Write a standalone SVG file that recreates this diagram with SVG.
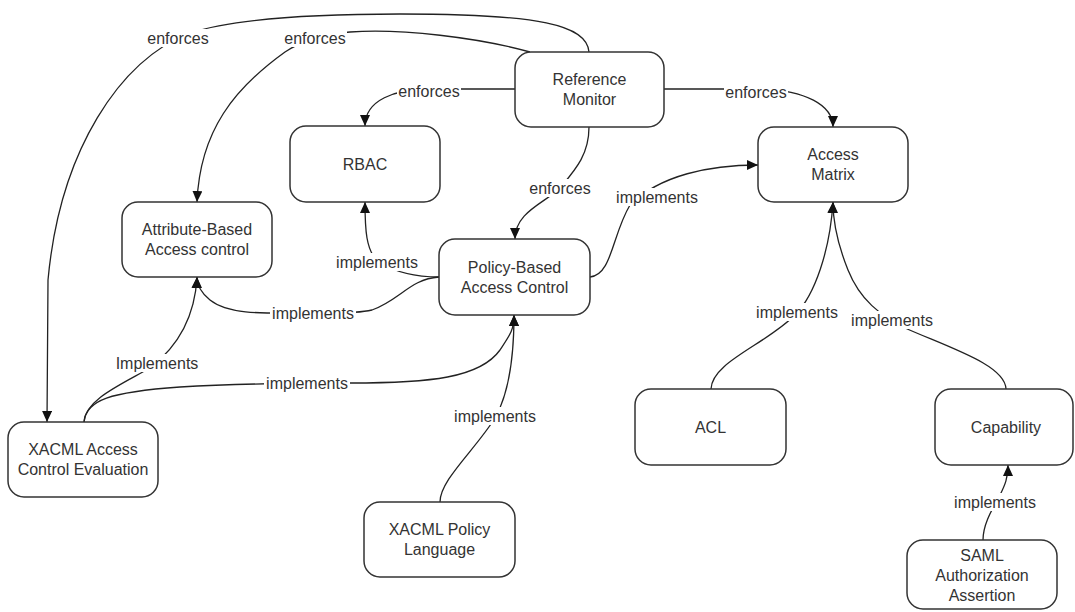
<svg xmlns="http://www.w3.org/2000/svg" width="1075" height="612" viewBox="0 0 1075 612">
<style>
.node rect{fill:#fff;stroke:#333;stroke-width:1.5}
.node text{font-family:"Liberation Sans",Arial,sans-serif;font-size:16px;fill:#333;text-anchor:middle}
.conn path{fill:none;stroke:#222;stroke-width:1.3}
.lbl rect{fill:#fff;stroke:none}
.lbl text{font-family:"Liberation Sans",Arial,sans-serif;font-size:16px;fill:#333;text-anchor:middle;dominant-baseline:central}
</style>
<defs>
<marker id="arr" markerWidth="12" markerHeight="10" refX="11" refY="5" orient="auto" markerUnits="userSpaceOnUse">
<path d="M0,0 L11,5 L0,10 z" fill="#111"/>
</marker>
</defs>
<rect width="1075" height="612" fill="#fff"/>
<g id="connectors" class="conn">
<path marker-end="url(#arr)" d="M589,52 C587,25 540,14 400,14 C300,14 230,20 190,33 C120,60 60,150 48,280 L47,422"/>
<path marker-end="url(#arr)" d="M530,52 C480,38 400,28 350,32 C320,34 300,42 285,52 C235,88 200,130 197,202"/>
<path marker-end="url(#arr)" d="M515,89 L430,89 C395,89 365,100 365,126"/>
<path marker-end="url(#arr)" d="M663,89 L760,89 C805,90 833,105 833,127"/>
<path marker-end="url(#arr)" d="M589,127 C589,155 575,170 560,188 C545,203 515,212 515,239"/>
<path marker-end="url(#arr)" d="M590,277 C612,275 612,235 630,205 C660,175 710,165 758,165"/>
<path marker-end="url(#arr)" d="M439,277 C415,277 395,272 378,262 C366,250 365,230 365,202"/>
<path marker-end="url(#arr)" d="M439,277 C410,279 400,300 372,310 C355,314 330,313 313,313 C270,313 230,316 210,300 C200,292 197,285 197,277"/>
<path marker-end="url(#arr)" d="M84,422 C85,400 120,385 150,368 C180,345 195,315 197,277"/>
<path marker-end="url(#arr)" d="M84,422 C86,400 110,392 180,387 C230,384 280,383 350,383 C430,383 480,378 500,350 C510,335 514,330 514,315"/>
<path marker-end="url(#arr)" d="M440,502 C440,480 475,450 495,418 C508,395 514,360 514,315"/>
<path marker-end="url(#arr)" d="M711,389 C712,362 765,345 795,315 C815,295 830,250 833,202"/>
<path marker-end="url(#arr)" d="M1006,389 C1005,365 950,348 905,328 C880,315 860,300 848,270 C838,245 833,225 833,202"/>
<path marker-end="url(#arr)" d="M983,540 C983,522 995,505 1000,495 C1005,485 1008,478 1008,465"/>
</g>
<g id="labels" class="lbl">
<g><rect x="146" y="29" width="64" height="18"/><text x="178" y="38">enforces</text></g>
<g><rect x="283" y="29" width="64" height="18"/><text x="315" y="38">enforces</text></g>
<g><rect x="397" y="82" width="64" height="18"/><text x="429" y="91">enforces</text></g>
<g><rect x="724" y="83" width="64" height="18"/><text x="756" y="92">enforces</text></g>
<g><rect x="528" y="179" width="64" height="18"/><text x="560" y="188">enforces</text></g>
<g><rect x="614" y="188" width="86" height="18"/><text x="657" y="197">implements</text></g>
<g><rect x="334" y="253" width="86" height="18"/><text x="377" y="262">implements</text></g>
<g><rect x="270" y="304" width="86" height="18"/><text x="313" y="313">implements</text></g>
<g><rect x="113" y="354" width="88" height="18"/><text x="157" y="363">Implements</text></g>
<g><rect x="264" y="374" width="86" height="18"/><text x="307" y="383">implements</text></g>
<g><rect x="452" y="407" width="86" height="18"/><text x="495" y="416">implements</text></g>
<g><rect x="754" y="303" width="86" height="18"/><text x="797" y="312">implements</text></g>
<g><rect x="849" y="311" width="86" height="18"/><text x="892" y="320">implements</text></g>
<g><rect x="952" y="493" width="86" height="18"/><text x="995" y="502">implements</text></g>
</g>
<g id="n-refmon" class="node"><rect x="515" y="52" width="149" height="75" rx="16"/><text x="589.5" y="85">Reference</text><text x="589.5" y="105">Monitor</text></g>
<g id="n-matrix" class="node"><rect x="758" y="127" width="150" height="75" rx="16"/><text x="833" y="160">Access</text><text x="833" y="180">Matrix</text></g>
<g id="n-rbac" class="node"><rect x="290" y="126" width="150" height="76" rx="16"/><text x="365" y="169.5">RBAC</text></g>
<g id="n-abac" class="node"><rect x="122" y="202" width="150" height="75" rx="16"/><text x="197" y="235">Attribute-Based</text><text x="197" y="255">Access control</text></g>
<g id="n-pbac" class="node"><rect x="439" y="239" width="151" height="76" rx="16"/><text x="514.5" y="272.5">Policy-Based</text><text x="514.5" y="292.5">Access Control</text></g>
<g id="n-xacml-eval" class="node"><rect x="8" y="422" width="150" height="75" rx="16"/><text x="83" y="455">XACML Access</text><text x="83" y="475">Control Evaluation</text></g>
<g id="n-xacml-lang" class="node"><rect x="364" y="502" width="151" height="75" rx="16"/><text x="439.5" y="535">XACML Policy</text><text x="439.5" y="555">Language</text></g>
<g id="n-acl" class="node"><rect x="635" y="389" width="151" height="76" rx="16"/><text x="710.5" y="432.5">ACL</text></g>
<g id="n-cap" class="node"><rect x="935" y="389" width="138" height="76" rx="16"/><text x="1006" y="432.5">Capability</text></g>
<g id="n-saml" class="node"><rect x="907" y="540" width="150" height="69" rx="16"/><text x="982" y="560.5">SAML</text><text x="982" y="580.5">Authorization</text><text x="982" y="600.5">Assertion</text></g>
</svg>
